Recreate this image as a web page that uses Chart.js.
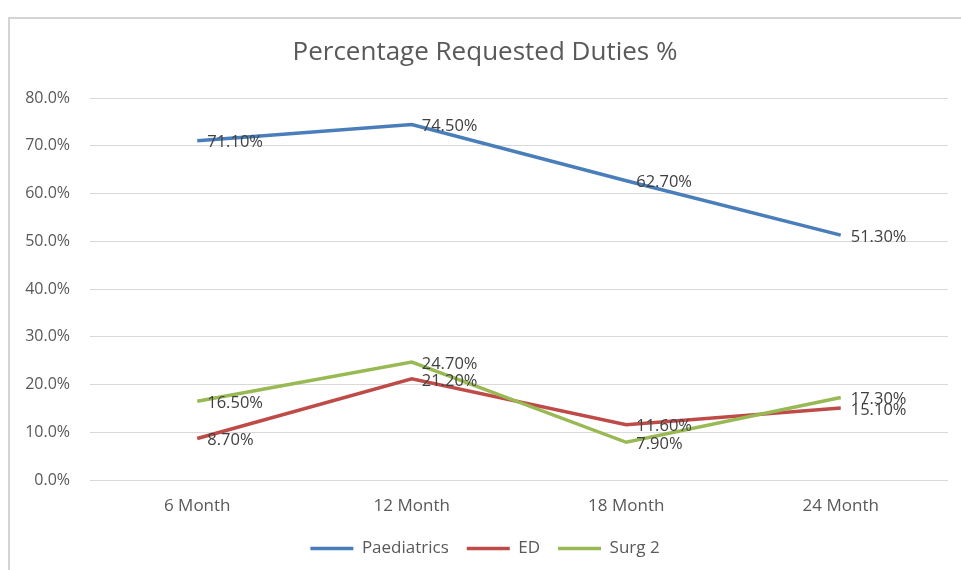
<!DOCTYPE html>
<html>
<head>
    <title>Percentage Requested Duties %</title>
    <meta charset="UTF-8">
    <script src="https://cdn.jsdelivr.net/npm/chart.js"></script>
    <style>
        body { margin: 0; background: #fff; }
        canvas { display: block; }
    </style>
</head>
<body>
    <canvas id="dutiesChart" width="961" height="570"></canvas>

    <script>
        // values (percent)
        const months = ['6 Month', '12 Month', '18 Month', '24 Month'];
        const paediatrics = [71.1, 74.5, 62.7, 51.3];
        const ed = [8.7, 21.2, 11.6, 15.1];
        const surg2 = [16.5, 24.7, 7.9, 17.3];
        const yTicks = [0, 10, 20, 30, 40, 50, 60, 70, 80];

        const textFont = "'Open Sans', 'Liberation Sans', sans-serif";

        // light grey frame round the chart, like the spreadsheet export
        const framePlugin = {
            id: 'frame',
            beforeDraw(chart) {
                const ctx = chart.ctx;
                ctx.save();
                ctx.fillStyle = '#ffffff';
                ctx.fillRect(0, 0, chart.width, chart.height);
                ctx.strokeStyle = '#d4d4d4';
                ctx.lineWidth = 2;
                ctx.strokeRect(9, 18, chart.width + 20, chart.height + 20);
                ctx.restore();
            }
        };

        // value labels to the right of each point
        const valueLabels = {
            id: 'valueLabels',
            afterDatasetsDraw(chart) {
                const ctx = chart.ctx;
                ctx.save();
                ctx.font = '16.5px ' + textFont;
                ctx.fillStyle = '#404040';
                ctx.textAlign = 'left';
                ctx.textBaseline = 'middle';
                chart.data.datasets.forEach((ds, i) => {
                    const meta = chart.getDatasetMeta(i);
                    meta.data.forEach((pt, j) => {
                        ctx.fillText(ds.data[j].toFixed(2) + '%', pt.x + 10, pt.y + 2);
                    });
                });
                ctx.restore();
            }
        };

        const ctx = document.getElementById('dutiesChart').getContext('2d');

        new Chart(ctx, {
            type: 'line',
            data: {
                labels: months,
                datasets: [
                    { label: 'Paediatrics', data: paediatrics, borderColor: '#4a7ebb', backgroundColor: '#4a7ebb', borderWidth: 3.5, order: 2 },
                    { label: 'ED', data: ed, borderColor: '#be4b48', backgroundColor: '#be4b48', borderWidth: 3.5, order: 1 },
                    { label: 'Surg 2', data: surg2, borderColor: '#98b954', backgroundColor: '#98b954', borderWidth: 3.5, order: 0 }
                ]
            },
            options: {
                responsive: false,
                animation: false,
                devicePixelRatio: 1,
                elements: {
                    line: { tension: 0 },
                    point: { radius: 0, hoverRadius: 0 }
                },
                layout: { padding: { left: 22, right: 13, top: 0, bottom: 3 } },
                plugins: {
                    title: {
                        display: true,
                        text: 'Percentage Requested Duties %',
                        color: '#595959',
                        font: { family: textFont, size: 26, weight: 'normal' },
                        padding: { top: 37, bottom: 30 }
                    },
                    legend: {
                        position: 'bottom',
                        labels: {
                            usePointStyle: true,
                            pointStyle: 'line',
                            pointStyleWidth: 43,
                            padding: 18,
                            color: '#595959',
                            font: { family: textFont, size: 17 },
                            sort: (a, b) => a.datasetIndex - b.datasetIndex
                        }
                    },
                    tooltip: { enabled: false }
                },
                scales: {
                    x: {
                        offset: true,
                        grid: { display: false },
                        border: { display: false },
                        ticks: {
                            color: '#595959',
                            padding: 8,
                            font: { family: textFont, size: 17 }
                        },
                        afterFit: s => { s.height = 42; }
                    },
                    y: {
                        min: 0,
                        max: 80,
                        afterBuildTicks: s => { s.ticks = yTicks.map(v => ({ value: v })); },
                        grid: { color: '#d9d9d9', lineWidth: 1, drawTicks: false },
                        border: { display: false },
                        ticks: {
                            color: '#595959',
                            padding: 20,
                            font: { family: textFont, size: 16 },
                            callback: v => v.toFixed(1) + '%'
                        },
                        afterFit: s => { s.width = 68; }
                    }
                }
            },
            plugins: [framePlugin, valueLabels]
        });
    </script>
</body>
</html>
